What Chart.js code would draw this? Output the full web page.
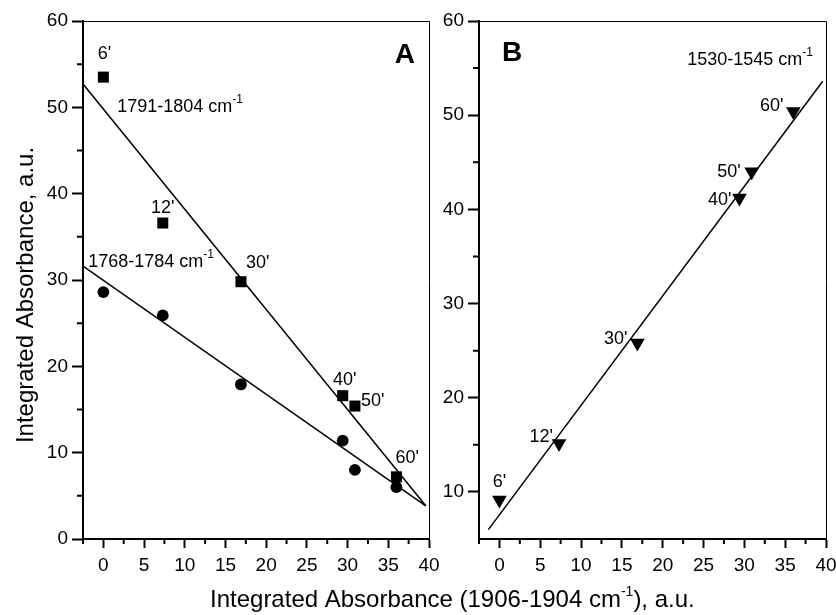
<!DOCTYPE html>
<html><head><meta charset="utf-8">
<script src="https://cdn.jsdelivr.net/npm/chart.js@4.4.1/dist/chart.umd.min.js"></script>
<style>
html,body{margin:0;padding:0;background:#fff;}
#wrap{position:relative;width:836px;height:615px;overflow:hidden;background:#fff;}
canvas{position:absolute;top:0;}
</style></head><body>
<div id="wrap">
<canvas id="cA" width="836" height="615" style="left:0"></canvas>
<canvas id="cB" width="396" height="615" style="left:440px"></canvas>
</div>
<script>
// ---------- data ----------
const timeLabels = ["6'", "12'", "30'", "40'", "50'", "60'"];
const x1906 = [0, 7.3, 16.9, 29.4, 30.9, 36.0];
const y1791 = [53.5, 36.6, 29.8, 16.6, 15.4, 7.2];
const y1768 = [28.6, 25.9, 17.9, 11.4, 8.0, 6.0];
const y1530 = [9.15, 15.15, 25.8, 41.2, 44.0, 50.4];
const fit1791X = [-2.5, 39.6], fit1791Y = [52.7, 3.85];
const fit1768X = [-2.5, 39.6], fit1768Y = [31.6, 3.85];
const fit1530X = [-1.35, 39.6], fit1530Y = [6.0, 53.6];
const xTickValues = [0, 5, 10, 15, 20, 25, 30, 35, 40];
const xMinorValues = [-2.5, 2.5, 7.5, 12.5, 17.5, 22.5, 27.5, 32.5, 37.5];
const yTickValuesA = [0, 10, 20, 30, 40, 50, 60];
const yMinorValuesA = [5, 15, 25, 35, 45, 55];
const yTickValuesB = [10, 20, 30, 40, 50, 60];
const yMinorValuesB = [15, 25, 35, 45, 55];
const bandLabels = { b1791: '1791-1804 cm', b1768: '1768-1784 cm', b1530: '1530-1545 cm', sup: '-1' };
const panelLabels = ['A', 'B'];
const yTitle = 'Integrated Absorbance, a.u.';
const xTitle = ['Integrated Absorbance (1906-1904 cm', '-1', '), a.u.'];

// ---------- styles / positions ----------
const FONT = "'Liberation Sans', Arial, sans-serif";
const TICK_SIZE = 19, LABEL_SIZE = 18, TITLE_SIZE = 24;
const sqOffsets = [[1,-18,'center'],[0,-10,'center'],[5,-14,'left'],[2,-11,'center'],[6,0,'left'],[-1,-14,'left']];
const triOffsets = [[0,-13,'center'],[-6,-1,'right'],[-10,1,'right'],[-8,7,'right'],[-11,5,'right'],[-10,0,'right']];

const pts = (xs, ys) => xs.map((x, i) => ({x: x, y: ys[i]}));

function drawRich(ctx, parts, x, y, align) {
  let w = 0;
  parts.forEach(p => { ctx.font = (p.bold ? 'bold ' : '') + p.size + 'px ' + FONT; p.w = ctx.measureText(p.t).width; w += p.w; });
  let cx = align === 'center' ? x - w / 2 : align === 'right' ? x - w : x;
  ctx.textAlign = 'left'; ctx.textBaseline = 'alphabetic'; ctx.fillStyle = '#000';
  parts.forEach(p => { ctx.font = (p.bold ? 'bold ' : '') + p.size + 'px ' + FONT; ctx.fillText(p.t, cx, y + (p.dy || 0)); cx += p.w; });
}
function bandParts(txt) { return [{t: txt, size: LABEL_SIZE}, {t: bandLabels.sup, size: 12, dy: -9}]; }

function xAxis() {
  return {
    type: 'linear', min: -2.5, max: 40,
    afterBuildTicks: s => { s.ticks = xTickValues.map(v => ({value: v})); },
    ticks: { font: {family: FONT, size: TICK_SIZE}, color: '#000', padding: 6, maxRotation: 0, autoSkip: false, callback: v => String(v) },
    grid: { drawOnChartArea: false, drawTicks: true, tickLength: 9, tickWidth: 2, tickColor: '#000' },
    border: { display: true, width: 2, color: '#000' },
    afterFit: s => { s.height = 50; s.paddingLeft = 0; s.paddingRight = 0; }
  };
}
function yAxis(min, vals, width) {
  return {
    type: 'linear', min: min, max: 60,
    afterBuildTicks: s => { s.ticks = vals.map(v => ({value: v})); },
    ticks: { font: {family: FONT, size: TICK_SIZE}, color: '#000', padding: 4, autoSkip: false, callback: v => String(v) },
    grid: { drawOnChartArea: false, drawTicks: true, tickLength: 11, tickWidth: 2, tickColor: '#000' },
    border: { display: true, width: 2, color: '#000' },
    afterFit: s => { s.width = width; s.paddingTop = 0; s.paddingBottom = 0; }
  };
}

function decoPlugin(yMinor, drawExtra) {
  return {
    id: 'deco',
    afterDraw(chart) {
      const ctx = chart.ctx, a = chart.chartArea, xs = chart.scales.x, ys = chart.scales.y;
      ctx.save();
      ctx.strokeStyle = '#000';
      ctx.lineWidth = 1;
      ctx.beginPath();
      ctx.moveTo(a.left, a.top + 0.5); ctx.lineTo(a.right + 0.5, a.top + 0.5); ctx.lineTo(a.right + 0.5, a.bottom);
      ctx.stroke();
      ctx.lineWidth = 2;
      ctx.beginPath();
      xMinorValues.forEach(v => { const px = xs.getPixelForValue(v); ctx.moveTo(px, a.bottom); ctx.lineTo(px, a.bottom + 5); });
      yMinor.forEach(v => { const py = ys.getPixelForValue(v); ctx.moveTo(a.left, py); ctx.lineTo(a.left - 6, py); });
      ctx.stroke();
      drawExtra(ctx, chart, xs, ys);
      ctx.restore();
    }
  };
}

const common = { responsive: false, animation: false, events: [], devicePixelRatio: 1,
  plugins: { legend: {display: false}, tooltip: {enabled: false} } };

// ---------- Panel A ----------
new Chart(document.getElementById('cA'), {
  type: 'scatter',
  data: { datasets: [
    { data: pts(fit1791X, fit1791Y), showLine: true, borderColor: '#000', borderWidth: 1.5, pointRadius: 0 },
    { data: pts(fit1768X, fit1768Y), showLine: true, borderColor: '#000', borderWidth: 1.5, pointRadius: 0 },
    { data: pts(x1906, y1791), pointStyle: 'rect', pointRadius: 7.8, backgroundColor: '#000', borderColor: '#000', borderWidth: 0, showLine: false },
    { data: pts(x1906, y1768), pointStyle: 'circle', pointRadius: 5.9, backgroundColor: '#000', borderColor: '#000', borderWidth: 0, showLine: false }
  ]},
  options: Object.assign({}, common, {
    layout: { padding: { left: 0, top: 21, right: 836 - 429, bottom: 615 - 539 - 50 } },
    scales: { x: xAxis(), y: yAxis(0, yTickValuesA, 83) }
  }),
  plugins: [decoPlugin(yMinorValuesA, (ctx, chart, xs, ys) => {
    ctx.fillStyle = '#000';
    x1906.forEach((x, i) => {
      const o = sqOffsets[i];
      drawRich(ctx, [{t: timeLabels[i], size: LABEL_SIZE}], xs.getPixelForValue(x) + o[0], ys.getPixelForValue(y1791[i]) + o[1], o[2]);
    });
    drawRich(ctx, bandParts(bandLabels.b1791), xs.getPixelForValue(1.7), ys.getPixelForValue(49.5), 'left');
    drawRich(ctx, bandParts(bandLabels.b1768), xs.getPixelForValue(-1.85), ys.getPixelForValue(31.5), 'left');
    drawRich(ctx, [{t: panelLabels[0], size: 28, bold: true}], xs.getPixelForValue(35.8), ys.getPixelForValue(55.15), 'left');
    ctx.save();
    ctx.translate(33, 295);
    ctx.rotate(-Math.PI / 2);
    drawRich(ctx, [{t: yTitle, size: TITLE_SIZE}], 0, 0, 'center');
    ctx.restore();
    drawRich(ctx, [{t: xTitle[0], size: TITLE_SIZE}, {t: xTitle[1], size: 14, dy: -11}, {t: xTitle[2], size: TITLE_SIZE}], 210, 607, 'left');
  })]
});

// ---------- Panel B ----------
new Chart(document.getElementById('cB'), {
  type: 'scatter',
  data: { datasets: [
    { data: pts(fit1530X, fit1530Y), showLine: true, borderColor: '#000', borderWidth: 1.5, pointRadius: 0 },
    { data: pts(x1906, y1530), pointStyle: 'triangle', rotation: 180, pointRadius: 8.5, backgroundColor: '#000', borderColor: '#000', borderWidth: 0, showLine: false }
  ]},
  options: Object.assign({}, common, {
    layout: { padding: { left: 0, top: 21, right: 396 - (826 - 440), bottom: 615 - 539 - 50 } },
    scales: { x: xAxis(), y: yAxis(5, yTickValuesB, 479 - 440) }
  }),
  plugins: [decoPlugin(yMinorValuesB, (ctx, chart, xs, ys) => {
    x1906.forEach((x, i) => {
      const o = triOffsets[i];
      drawRich(ctx, [{t: timeLabels[i], size: LABEL_SIZE}], xs.getPixelForValue(x) + o[0], ys.getPixelForValue(y1530[i]) + o[1], o[2]);
    });
    drawRich(ctx, bandParts(bandLabels.b1530), xs.getPixelForValue(23.0), ys.getPixelForValue(55.33), 'left');
    drawRich(ctx, [{t: panelLabels[1], size: 28, bold: true}], xs.getPixelForValue(0.33), ys.getPixelForValue(55.8), 'left');
  })]
});
</script>
</body></html>
